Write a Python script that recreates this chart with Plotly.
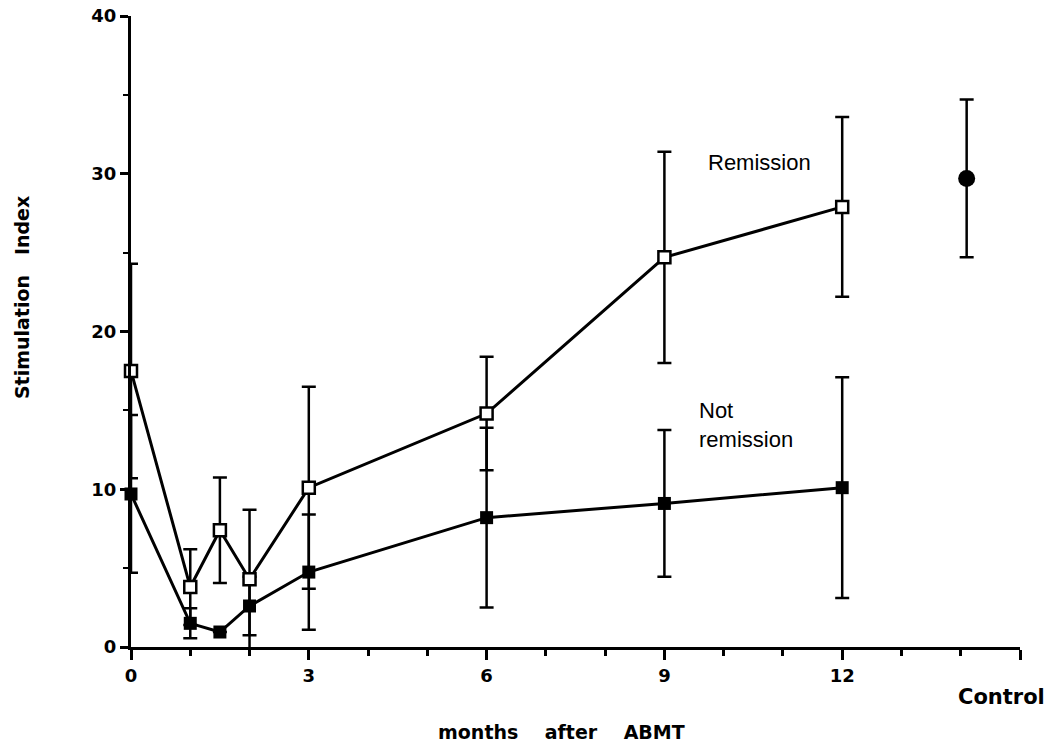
import plotly.graph_objects as go

# Data
months = [0, 1, 1.5, 2, 3, 6, 9, 12]
remission = [17.5, 3.8, 7.4, 4.3, 10.1, 14.8, 24.7, 27.9]
remission_err = [6.8, 2.4, 3.35, 4.4, 6.4, 3.6, 6.7, 5.7]
not_remission = [9.7, 1.5, 0.95, 2.6, 4.75, 8.2, 9.1, 10.1]
not_remission_err = [5.0, 0.95, 0.0, 1.85, 3.65, 5.7, 4.65, 7.0]
control_x = [14.1]
control = [29.7]
control_err = [5.0]
x_tickvals = [0, 3, 6, 9, 12, 15]
x_ticktext = ["0", "3", "6", "9", "12", ""]
y_tickvals = [0, 10, 20, 30, 40]

FONT = "Liberation Sans, Arial, Helvetica, sans-serif"
BOLD = "DejaVu Sans, Liberation Sans, Arial, sans-serif"
BLACK = "black"
SP = "\u00a0"

fig = go.Figure()

fig.add_trace(go.Scatter(
    x=months, y=not_remission, mode="lines+markers",
    line=dict(color=BLACK, width=3),
    marker=dict(symbol="square", size=13, color=BLACK),
    error_y=dict(type="data", array=not_remission_err, color=BLACK, thickness=2.5, width=7),
    cliponaxis=False, showlegend=False, name="Not remission"))

fig.add_trace(go.Scatter(
    x=months, y=remission, mode="lines+markers",
    line=dict(color=BLACK, width=3),
    marker=dict(symbol="square", size=12, color="white", line=dict(color=BLACK, width=2.5)),
    error_y=dict(type="data", array=remission_err, color=BLACK, thickness=2.5, width=7),
    cliponaxis=False, showlegend=False, name="Remission"))

fig.add_trace(go.Scatter(
    x=control_x, y=control, mode="markers",
    marker=dict(symbol="circle", size=17, color=BLACK),
    error_y=dict(type="data", array=control_err, color=BLACK, thickness=2.5, width=7),
    cliponaxis=False, showlegend=False, name="Control"))

fig.add_annotation(x=14.68, y=-0.079, xref="x", yref="paper", text="<b>Control</b>",
                   xanchor="center", yanchor="middle",
                   showarrow=False, font=dict(family=BOLD, size=21, color=BLACK))
fig.add_annotation(x=0.484, y=-0.135, xref="paper", yref="paper",
                   xanchor="center", yanchor="middle",
                   text="<b>months" + SP * 4 + "after" + SP * 4 + "ABMT</b>",
                   showarrow=False, font=dict(family=BOLD, size=19, color=BLACK))
fig.add_annotation(x=-0.1226, y=0.553, xref="paper", yref="paper", textangle=-90,
                   xanchor="center", yanchor="middle",
                   text="<b>Stimulation" + SP * 3 + "Index</b>",
                   showarrow=False, font=dict(family=BOLD, size=19, color=BLACK))
fig.add_annotation(x=10.61, y=30.7, xref="x", yref="y", text="Remission",
                   xanchor="center", yanchor="middle",
                   showarrow=False, font=dict(family=FONT, size=22, color=BLACK))
fig.add_annotation(x=9.55, y=14.1, xref="x", yref="y", text="Not<br>remission",
                   xanchor="left", yanchor="middle", align="left",
                   showarrow=False, font=dict(family=FONT, size=22, color=BLACK))

fig.update_layout(
    width=1055, height=744,
    margin=dict(l=131, r=35, t=16, b=97, autoexpand=False),
    plot_bgcolor="white", paper_bgcolor="white",
    font=dict(family=FONT, size=17, color=BLACK),
    xaxis=dict(range=[0, 15], tickvals=x_tickvals, ticktext=x_ticktext, automargin=False,
               showline=True, linecolor=BLACK, linewidth=3, showgrid=False, zeroline=False,
               ticks="outside", ticklen=10, tickwidth=3, tickcolor=BLACK,
               tickfont=dict(family=BOLD, size=18, color=BLACK, weight="bold"),
               minor=dict(dtick=1, tick0=0, ticks="outside", ticklen=6, tickwidth=2.5,
                          tickcolor=BLACK, showgrid=False)),
    yaxis=dict(range=[0, 40], tickvals=y_tickvals, automargin=False,
               showline=True, linecolor=BLACK, linewidth=3, showgrid=False, zeroline=False,
               ticks="outside", ticklen=8, tickwidth=3, tickcolor=BLACK,
               tickfont=dict(family=BOLD, size=18, color=BLACK, weight="bold"),
               minor=dict(dtick=5, tick0=0, ticks="outside", ticklen=5, tickwidth=2,
                          tickcolor=BLACK, showgrid=False)),
)

fig.write_html("out.html", config={"displayModeBar": False},
               post_script="document.body.style.margin='0';")
